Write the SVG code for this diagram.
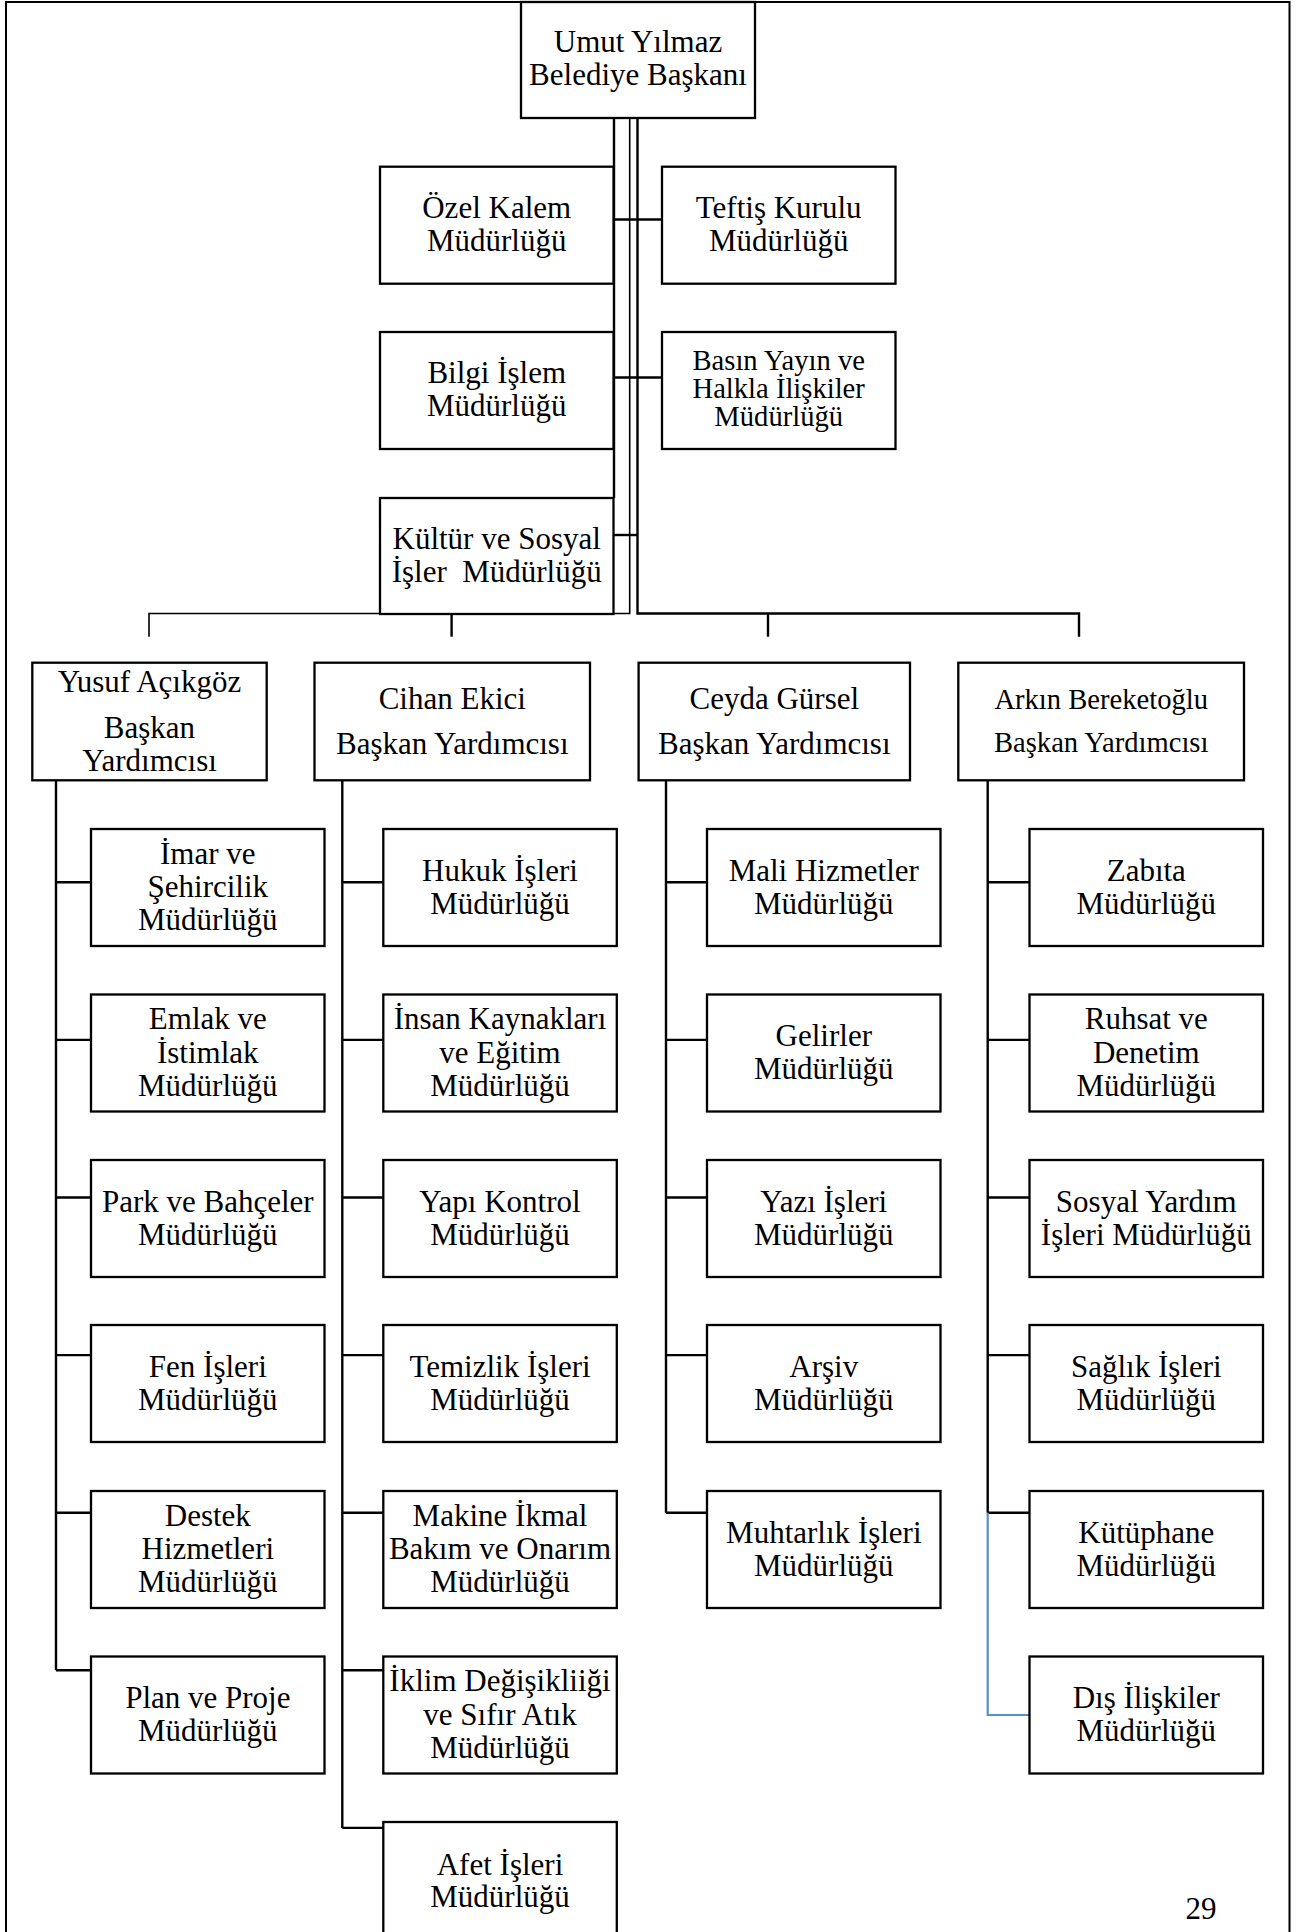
<svg xmlns="http://www.w3.org/2000/svg" width="1309" height="1932" viewBox="0 0 1309 1932">
<style>
  .box { fill: #ffffff; stroke: #000000; stroke-width: 2.3; }
  .ln { fill: none; stroke: #000000; stroke-width: 2.4; }
  .thin { fill: none; stroke: #000000; stroke-width: 1.6; }
  .blue { fill: none; stroke: #5B8DCB; stroke-width: 2.2; }
  .frame { fill: none; stroke: #000000; stroke-width: 2; }
  text { font-family: "Liberation Serif", "Times New Roman", serif; font-size: 31px; fill: #000000; text-anchor: middle; }
  .sm { font-size: 28.6px; }
</style>
<rect x="0" y="0" width="1309" height="1932" fill="#ffffff"/>
<g id="frame">
  <path class="frame" d="M6,1932 V2 H1289.5 V1932"/>
</g>
<g id="connectors">
  <path class="ln" d="M614,117 V498"/>
  <path class="thin" d="M629.7,117 V613.5 H149 V636.7"/>
  <path class="ln" d="M637.5,117 V613.5 H1079 V636.7"/>
  <path class="ln" d="M451.6,613.5 V636.7"/>
  <path class="ln" d="M768,613.5 V636.7"/>
  <path class="ln" d="M614,219.5 H662"/>
  <path class="ln" d="M614,377.5 H662"/>
  <path class="ln" d="M613.5,535 H637.5"/>
  <path class="ln" d="M56,780 V1670.3"/>
  <path class="ln" d="M56,882.3 H91 M56,1039.9 H91 M56,1197.5 H91 M56,1355.1 H91 M56,1512.7 H91 M56,1670.3 H91"/>
  <path class="ln" d="M342.3,780 V1827.9"/>
  <path class="ln" d="M342.3,882.3 H383.3 M342.3,1039.9 H383.3 M342.3,1197.5 H383.3 M342.3,1355.1 H383.3 M342.3,1512.7 H383.3 M342.3,1670.3 H383.3 M342.3,1827.9 H383.3"/>
  <path class="ln" d="M666,780 V1512.7"/>
  <path class="ln" d="M666,882.3 H707 M666,1039.9 H707 M666,1197.5 H707 M666,1355.1 H707 M666,1512.7 H707"/>
  <path class="ln" d="M987.7,780 V1512.7"/>
  <path class="ln" d="M987.7,882.3 H1029.5 M987.7,1039.9 H1029.5 M987.7,1197.5 H1029.5 M987.7,1355.1 H1029.5 M987.7,1512.7 H1029.5"/>
  <path class="blue" d="M987.7,1512.7 V1715 H1029.5"/>
</g>
<g id="baskan">
  <rect class="box" x="521" y="2" width="234" height="116"/>
  <text><tspan x="638" y="52">Umut Yılmaz</tspan><tspan x="638" y="85">Belediye Başkanı</tspan></text>
</g>
<g id="ozel-kalem">
  <rect class="box" x="380" y="166.7" width="233.5" height="117"/>
  <text><tspan x="496.7" y="217.5">Özel Kalem</tspan><tspan x="496.7" y="250.5">Müdürlüğü</tspan></text>
</g>
<g id="teftis">
  <rect class="box" x="662" y="166.7" width="233.5" height="117"/>
  <text><tspan x="778.7" y="217.5">Teftiş Kurulu</tspan><tspan x="778.7" y="250.5">Müdürlüğü</tspan></text>
</g>
<g id="bilgi-islem">
  <rect class="box" x="380" y="332" width="233.5" height="117"/>
  <text><tspan x="496.7" y="383">Bilgi İşlem</tspan><tspan x="496.7" y="416">Müdürlüğü</tspan></text>
</g>
<g id="basin-yayin">
  <rect class="box" x="662" y="332" width="233.5" height="117"/>
  <text class="sm"><tspan x="778.7" y="370">Basın Yayın ve</tspan><tspan x="778.7" y="398">Halkla İlişkiler</tspan><tspan x="778.7" y="426">Müdürlüğü</tspan></text>
</g>
<g id="kultur">
  <rect class="box" x="380" y="498" width="233.5" height="116"/>
  <text><tspan x="496.7" y="549">Kültür ve Sosyal</tspan><tspan x="496.7" y="582" xml:space="preserve">İşler  Müdürlüğü</tspan></text>
</g>
<g id="yusuf">
  <rect class="box" x="32.3" y="662.7" width="234.4" height="117.6"/>
  <text><tspan x="149.5" y="691.7">Yusuf Açıkgöz</tspan><tspan x="149.5" y="737.7">Başkan</tspan><tspan x="149.5" y="771">Yardımcısı</tspan></text>
</g>
<g id="cihan">
  <rect class="box" x="314.5" y="662.7" width="275.5" height="117.6"/>
  <text><tspan x="452.3" y="709">Cihan Ekici</tspan><tspan x="452.3" y="754">Başkan Yardımcısı</tspan></text>
</g>
<g id="ceyda">
  <rect class="box" x="638.6" y="662.7" width="271.4" height="117.6"/>
  <text><tspan x="774.3" y="709">Ceyda Gürsel</tspan><tspan x="774.3" y="754">Başkan Yardımcısı</tspan></text>
</g>
<g id="arkin">
  <rect class="box" x="958.3" y="662.7" width="285.7" height="117.6"/>
  <text class="sm"><tspan x="1101.2" y="709">Arkın Bereketoğlu</tspan><tspan x="1101.2" y="751.7">Başkan Yardımcısı</tspan></text>
</g>
<g id="imar">
  <rect class="box" x="91" y="829" width="233.5" height="117"/>
  <text><tspan x="207.8" y="863.5">İmar ve</tspan><tspan x="207.8" y="897">Şehircilik</tspan><tspan x="207.8" y="930">Müdürlüğü</tspan></text>
</g>
<g id="emlak">
  <rect class="box" x="91" y="994.5" width="233.5" height="117"/>
  <text><tspan x="207.8" y="1029">Emlak ve</tspan><tspan x="207.8" y="1062.5">İstimlak</tspan><tspan x="207.8" y="1095.5">Müdürlüğü</tspan></text>
</g>
<g id="park">
  <rect class="box" x="91" y="1160" width="233.5" height="117"/>
  <text><tspan x="207.8" y="1211.5">Park ve Bahçeler</tspan><tspan x="207.8" y="1244.5">Müdürlüğü</tspan></text>
</g>
<g id="fen">
  <rect class="box" x="91" y="1325" width="233.5" height="117"/>
  <text><tspan x="207.8" y="1376.5">Fen İşleri</tspan><tspan x="207.8" y="1409.5">Müdürlüğü</tspan></text>
</g>
<g id="destek">
  <rect class="box" x="91" y="1491" width="233.5" height="117"/>
  <text><tspan x="207.8" y="1525.5">Destek</tspan><tspan x="207.8" y="1559">Hizmetleri</tspan><tspan x="207.8" y="1592">Müdürlüğü</tspan></text>
</g>
<g id="plan">
  <rect class="box" x="91" y="1656.5" width="233.5" height="117"/>
  <text><tspan x="207.8" y="1708">Plan ve Proje</tspan><tspan x="207.8" y="1741">Müdürlüğü</tspan></text>
</g>
<g id="hukuk">
  <rect class="box" x="383.3" y="829" width="233.5" height="117"/>
  <text><tspan x="500" y="880.5">Hukuk İşleri</tspan><tspan x="500" y="913.5">Müdürlüğü</tspan></text>
</g>
<g id="insan">
  <rect class="box" x="383.3" y="994.5" width="233.5" height="117"/>
  <text><tspan x="500" y="1029">İnsan Kaynakları</tspan><tspan x="500" y="1062.5">ve Eğitim</tspan><tspan x="500" y="1095.5">Müdürlüğü</tspan></text>
</g>
<g id="yapi">
  <rect class="box" x="383.3" y="1160" width="233.5" height="117"/>
  <text><tspan x="500" y="1211.5">Yapı Kontrol</tspan><tspan x="500" y="1244.5">Müdürlüğü</tspan></text>
</g>
<g id="temizlik">
  <rect class="box" x="383.3" y="1325" width="233.5" height="117"/>
  <text><tspan x="500" y="1376.5">Temizlik İşleri</tspan><tspan x="500" y="1409.5">Müdürlüğü</tspan></text>
</g>
<g id="makine">
  <rect class="box" x="383.3" y="1491" width="233.5" height="117"/>
  <text><tspan x="500" y="1525.5">Makine İkmal</tspan><tspan x="500" y="1559">Bakım ve Onarım</tspan><tspan x="500" y="1592">Müdürlüğü</tspan></text>
</g>
<g id="iklim">
  <rect class="box" x="383.3" y="1656.5" width="233.5" height="117"/>
  <text><tspan x="500" y="1691">İklim Değişikliiği</tspan><tspan x="500" y="1724.5">ve Sıfır Atık</tspan><tspan x="500" y="1757.5">Müdürlüğü</tspan></text>
</g>
<g id="afet">
  <rect class="box" x="383.3" y="1822" width="233.5" height="117"/>
  <text><tspan x="500" y="1874.5">Afet İşleri</tspan><tspan x="500" y="1907">Müdürlüğü</tspan></text>
</g>
<g id="mali">
  <rect class="box" x="707" y="829" width="233.5" height="117"/>
  <text><tspan x="823.8" y="880.5">Mali Hizmetler</tspan><tspan x="823.8" y="913.5">Müdürlüğü</tspan></text>
</g>
<g id="gelirler">
  <rect class="box" x="707" y="994.5" width="233.5" height="117"/>
  <text><tspan x="823.8" y="1046">Gelirler</tspan><tspan x="823.8" y="1079">Müdürlüğü</tspan></text>
</g>
<g id="yazi">
  <rect class="box" x="707" y="1160" width="233.5" height="117"/>
  <text><tspan x="823.8" y="1211.5">Yazı İşleri</tspan><tspan x="823.8" y="1244.5">Müdürlüğü</tspan></text>
</g>
<g id="arsiv">
  <rect class="box" x="707" y="1325" width="233.5" height="117"/>
  <text><tspan x="823.8" y="1376.5">Arşiv</tspan><tspan x="823.8" y="1409.5">Müdürlüğü</tspan></text>
</g>
<g id="muhtarlik">
  <rect class="box" x="707" y="1491" width="233.5" height="117"/>
  <text><tspan x="823.8" y="1542.5">Muhtarlık İşleri</tspan><tspan x="823.8" y="1575.5">Müdürlüğü</tspan></text>
</g>
<g id="zabita">
  <rect class="box" x="1029.5" y="829" width="233.5" height="117"/>
  <text><tspan x="1146.3" y="880.5">Zabıta</tspan><tspan x="1146.3" y="913.5">Müdürlüğü</tspan></text>
</g>
<g id="ruhsat">
  <rect class="box" x="1029.5" y="994.5" width="233.5" height="117"/>
  <text><tspan x="1146.3" y="1029">Ruhsat ve</tspan><tspan x="1146.3" y="1062.5">Denetim</tspan><tspan x="1146.3" y="1095.5">Müdürlüğü</tspan></text>
</g>
<g id="sosyal-yardim">
  <rect class="box" x="1029.5" y="1160" width="233.5" height="117"/>
  <text><tspan x="1146.3" y="1211.5">Sosyal Yardım</tspan><tspan x="1146.3" y="1244.5">İşleri Müdürlüğü</tspan></text>
</g>
<g id="saglik">
  <rect class="box" x="1029.5" y="1325" width="233.5" height="117"/>
  <text><tspan x="1146.3" y="1376.5">Sağlık İşleri</tspan><tspan x="1146.3" y="1409.5">Müdürlüğü</tspan></text>
</g>
<g id="kutuphane">
  <rect class="box" x="1029.5" y="1491" width="233.5" height="117"/>
  <text><tspan x="1146.3" y="1542.5">Kütüphane</tspan><tspan x="1146.3" y="1575.5">Müdürlüğü</tspan></text>
</g>
<g id="dis-iliskiler">
  <rect class="box" x="1029.5" y="1656.5" width="233.5" height="117"/>
  <text><tspan x="1146.3" y="1708">Dış İlişkiler</tspan><tspan x="1146.3" y="1741">Müdürlüğü</tspan></text>
</g>
<g id="page-number">
  <text x="1201" y="1918.7">29</text>
</g>
</svg>
